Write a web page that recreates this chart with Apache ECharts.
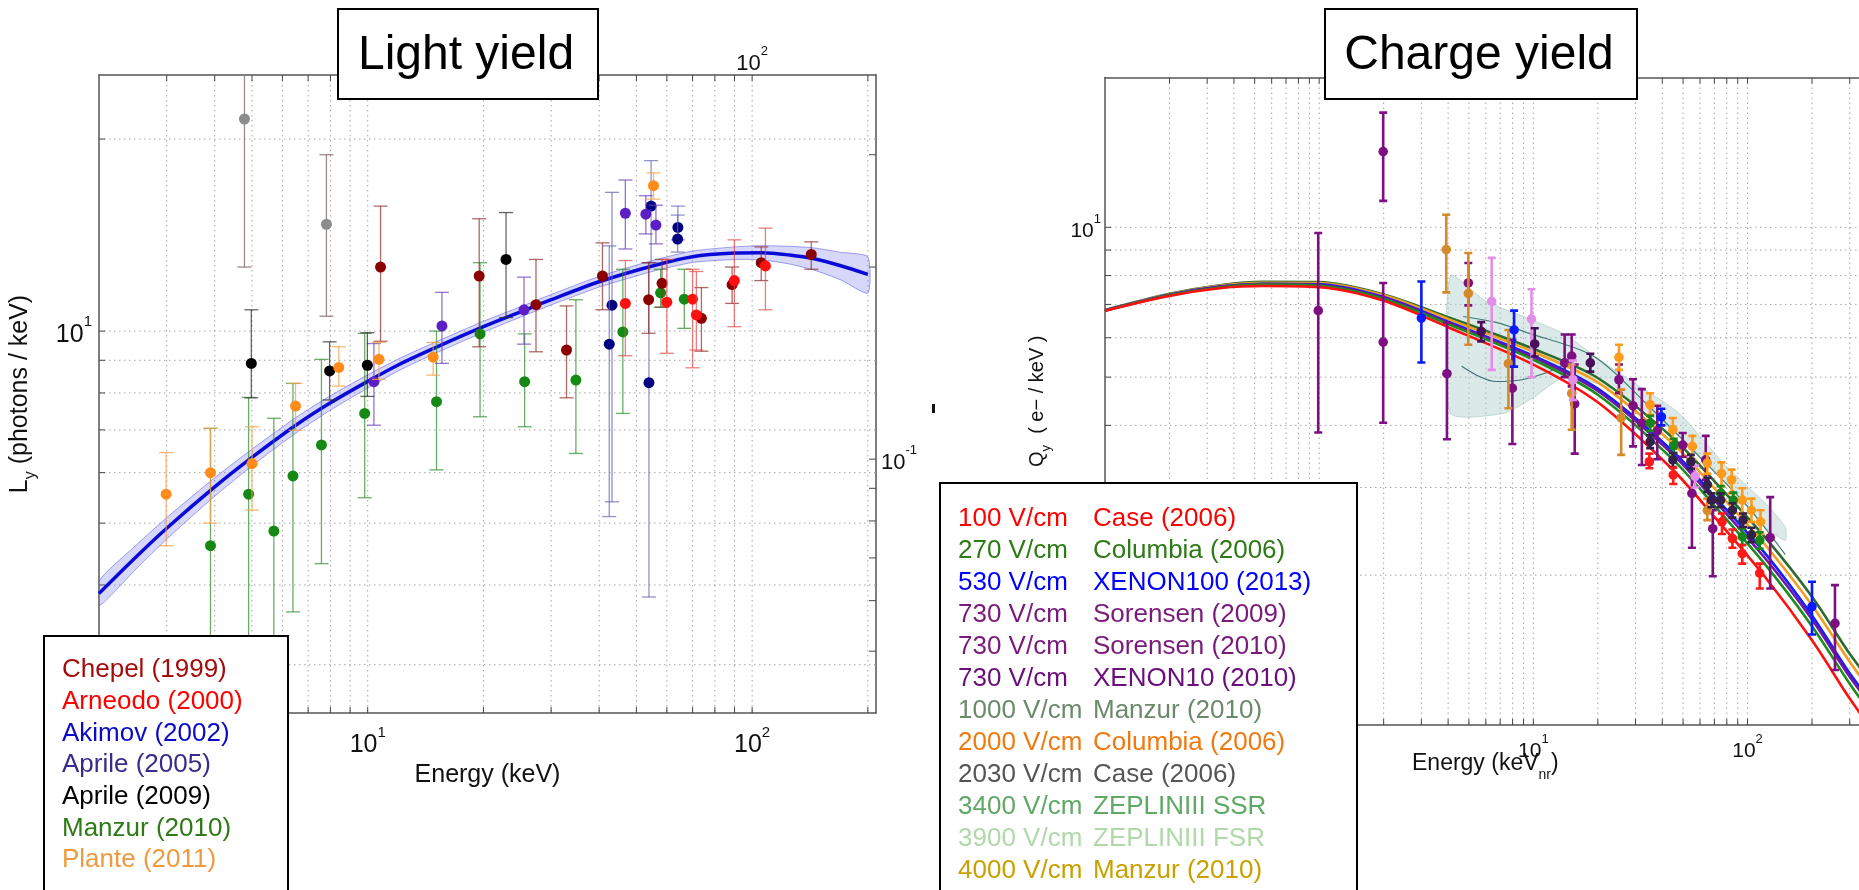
<!DOCTYPE html>
<html>
<head>
<meta charset="utf-8">
<script src="https://cdn.jsdelivr.net/npm/echarts@6/dist/echarts.min.js"></script>
<style>
  html, body { margin: 0; padding: 0; overflow: hidden; background: #fff; }
  #chart { width: 1980px; height: 890px; }
</style>
</head>
<body>
<div id="chart"></div>
<script>
// Light yield / Charge yield panels, log-log, drawn with ECharts custom series for error bars.
const FONT = '"Liberation Sans", Arial, Helvetica, sans-serif';

// axis ranges
const lightX = [2, 210];
const lightY = [2.52, 25.2];
const lightY2 = [0.04, 0.4];
const chargeX = [0.1, 1000];
const chargeY = [1, 20];

// dotted minor grid positions (MATLAB style)
const lightXGrid = [3, 4, 5, 6, 7, 8, 9, 10, 20, 30, 40, 50, 60, 70, 80, 90, 100, 200];
const lightYGrid = [3, 4, 5, 6, 7, 8, 9, 10, 20];
const lightY2Ticks = [0.05, 0.06, 0.07, 0.08, 0.09, 0.1, 0.2, 0.3];
const chargeXGrid = [0.2, 0.3, 0.4, 0.5, 0.6, 0.7, 0.8, 0.9, 1, 2, 3, 4, 5, 6, 7, 8, 9, 10,
  20, 30, 40, 50, 60, 70, 80, 90, 100, 200, 300, 400, 500, 600, 700, 800, 900];
const chargeYGrid = [2, 3, 4, 5, 6, 7, 8, 9, 10];

// light yield model curve + band
const lyModelX = [2, 2.5, 3, 4, 5, 6.5, 8, 10, 12, 15, 20, 25, 30, 40, 55, 70, 90, 106, 125, 145, 170, 200];
const lyModel = [3.88, 4.43, 4.91, 5.70, 6.34, 7.12, 7.72, 8.34, 8.85, 9.42, 10.16, 10.72, 11.2, 11.95, 12.65, 13.08, 13.25, 13.27, 13.16, 12.98, 12.66, 12.27];
const lyBandLo = [3.71, 4.24, 4.72, 5.51, 6.15, 6.92, 7.52, 8.14, 8.66, 9.23, 9.96, 10.52, 10.99, 11.72, 12.40, 12.81, 12.95, 12.93, 12.74, 12.46, 12.03, 11.47];
const lyBandHi = [4.06, 4.62, 5.10, 5.89, 6.53, 7.32, 7.92, 8.54, 9.04, 9.61, 10.36, 10.92, 11.41, 12.18, 12.90, 13.35, 13.55, 13.61, 13.58, 13.50, 13.29, 13.07];

// light yield data: [energy, Ly, low, high]
const grayPts = [[4.78, 21.5, 12.6, 30], [7.81, 14.7, 10.55, 18.9]];
const chepel = [[10.8, 12.6, 9.64, 15.7], [19.5, 12.2, 9.45, 15.0], [27.4, 11.0, 9.28, 12.95], [32.9, 9.34, 7.86, 10.95],
  [40.8, 12.2, 10.8, 13.75], [53.8, 11.2, 9.92, 12.8], [58.3, 11.88, 10.9, 12.95], [73.8, 10.47, 9.3, 11.7],
  [88.7, 11.83, 11.05, 12.6], [105.6, 12.8, 12.0, 13.55], [142.5, 13.19, 12.5, 13.8]];
const arneodo = [[46.8, 11.05, 9.15, 12.9], [60.0, 11.1, 9.23, 12.95], [70.0, 11.22, 8.76, 12.5], [71.6, 10.6, 9.34, 12.4],
  [89.9, 12.0, 10.16, 13.9], [108.3, 12.65, 10.8, 14.5]];
const akimov = [[43.2, 10.98, 5.4, 16.5], [42.5, 9.54, 5.12, 13.6], [54.6, 15.7, 12.8, 18.5], [53.9, 8.3, 3.83, 12.8],
  [64.1, 14.54, 13.9, 15.7], [64.0, 13.94, 13.3, 15.2]];
const aprile05 = [[10.38, 8.33, 7.12, 9.56], [15.6, 10.19, 8.9, 11.5], [25.5, 10.8, 9.54, 12.15], [46.8, 15.3, 13.45, 17.25],
  [52.9, 15.25, 14.2, 16.3], [56.2, 14.66, 13.7, 15.75]];
const aprile09 = [[4.98, 8.9, 7.86, 10.8], [7.96, 8.66, 7.8, 9.62], [9.98, 8.84, 7.9, 9.94], [22.9, 12.95, 10.5, 15.34]];
const manzur = [[3.9, 4.61, 2.0, 7.04], [4.9, 5.55, 2.0, 7.87], [5.7, 4.86, 2.0, 7.3], [6.39, 5.93, 3.63, 8.28],
  [7.58, 6.63, 4.32, 9.03], [9.82, 7.43, 5.48, 9.92], [15.1, 7.75, 6.06, 10.0], [19.6, 9.9, 7.34, 12.8],
  [25.6, 8.33, 7.08, 9.9], [34.8, 8.38, 6.43, 11.2], [46.1, 9.97, 7.43, 12.5], [57.8, 11.48, 10.9, 12.5], [66.6, 11.22, 10.1, 12.5]];
const plante = [[2.99, 5.55, 4.61, 6.45], [3.9, 6.0, 5.0, 7.04], [5.0, 6.2, 5.24, 7.08], [6.49, 7.63, 6.99, 8.28],
  [8.41, 8.77, 8.2, 9.45], [10.7, 9.03, 8.4, 9.6], [14.8, 9.1, 8.53, 9.6], [55.4, 16.9, 16.1, 17.7]];

// charge yield model curves
const qyCurveX = [0.1, 0.2, 0.35, 0.55, 1, 2, 4, 10, 20, 45, 70, 120, 200, 300, 400];
const qyRed = [6.80, 7.28, 7.55, 7.62, 7.58, 7.12, 6.30, 5.30, 4.45, 3.25, 2.62, 1.99, 1.48, 1.13, 0.95];
const qyGreen = [6.80, 7.30, 7.58, 7.67, 7.63, 7.18, 6.39, 5.42, 4.61, 3.41, 2.76, 2.11, 1.58, 1.21, 1.02];
const qyPurple = [6.80, 7.31, 7.60, 7.69, 7.66, 7.22, 6.43, 5.48, 4.69, 3.49, 2.83, 2.17, 1.63, 1.25, 1.06];
const qyBlue = [6.81, 7.32, 7.61, 7.70, 7.68, 7.24, 6.46, 5.52, 4.74, 3.54, 2.88, 2.22, 1.66, 1.27, 1.08];
const qyOrange = [6.81, 7.34, 7.64, 7.74, 7.73, 7.30, 6.54, 5.62, 4.88, 3.67, 2.99, 2.31, 1.74, 1.34, 1.13];
const qyDkGreen = [6.82, 7.35, 7.66, 7.77, 7.76, 7.33, 6.60, 5.70, 4.98, 3.77, 3.09, 2.39, 1.81, 1.39, 1.18];

// ZEPLIN-III region
const zepBandX = [4.1, 6, 10, 14, 20, 30, 48, 80, 120, 150];
const zepBandHi = [8.0, 7.1, 6.5, 6.1, 5.45, 4.85, 4.23, 3.3, 2.8, 2.5];
const zepBandLoX = [4.1, 7.3, 10, 14, 24, 48, 80, 120, 150];
const zepBandLo = [4.23, 4.23, 4.55, 5.0, 4.71, 3.8, 3.05, 2.5, 2.35];
const zepUpperX = [4.7, 6.7, 9.5, 19.2, 35, 60, 100, 150];
const zepUpper = [6.62, 6.44, 6.13, 5.5, 4.35, 3.45, 2.75, 2.2];
const zepBowlX = [4.63, 5.62, 6.69, 8.87, 11.3, 13.5];
const zepBowl = [5.26, 5.01, 4.9, 4.94, 5.09, 5.26];

// charge yield data: [energy, Qy, low, high]
const qPurple = [[0.99, 6.8, 3.87, 9.74], [1.99, 14.2, 11.3, 17.0], [1.99, 5.88, 4.05, 7.73], [3.95, 5.08, 3.75, 6.44],
  [4.97, 7.73, 6.97, 8.48], [7.98, 4.75, 3.67, 5.94], [14.0, 5.34, 5.0, 6.09], [15.1, 5.51, 4.79, 6.09],
  [15.6, 4.42, 3.51, 5.3], [25.1, 4.94, 4.64, 5.3], [29.2, 4.38, 3.63, 4.95], [32.1, 4.04, 3.33, 4.73],
  [37.9, 3.9, 3.42, 4.38], [49.8, 3.65, 3.46, 3.86], [55.0, 2.92, 2.27, 3.38], [63.8, 3.41, 3.11, 3.81],
  [68.8, 2.48, 1.99, 2.70], [127.6, 2.38, 1.88, 2.87], [256, 1.6, 1.29, 1.91]];
const qOchre = [[3.92, 9.02, 7.4, 10.6], [4.97, 7.36, 5.81, 8.88], [7.65, 5.32, 4.33, 6.22], [15.1, 4.64, 3.92, 5.3],
  [25.7, 4.14, 3.49, 4.72], [64.9, 2.70, 2.58, 2.85]];
const qPink = [[6.39, 7.1, 5.17, 8.68], [9.8, 6.54, 5.0, 7.51], [15.3, 4.94, 4.5, 5.4], [56.9, 3.16, 3.0, 3.32]];
const qBlue = [[3.0, 6.57, 5.35, 7.78], [8.13, 6.22, 5.25, 6.8], [39.6, 4.16, 4.0, 4.32], [200, 1.73, 1.52, 1.94]];
const qDkPurple = [[5.71, 6.18, 5.9, 6.45], [10.15, 5.83, 5.5, 6.27], [18.45, 5.34, 5.13, 5.57]];
const qOrange = [[25.1, 5.48, 5.17, 5.81], [35.1, 4.4, 4.2, 4.64], [44.8, 3.92, 3.68, 4.14], [55.3, 3.63, 3.41, 3.81],
  [64.9, 3.36, 3.2, 3.51], [75.6, 3.2, 3.02, 3.37], [84.3, 3.11, 2.92, 3.26], [94.5, 2.83, 2.66, 2.99],
  [104.3, 2.70, 2.56, 2.85], [115, 2.56, 2.42, 2.70]];
const qGreen = [[35.1, 4.04, 3.9, 4.18], [45.2, 3.64, 3.52, 3.76], [74.9, 2.92, 2.82, 3.02], [85.8, 2.83, 2.73, 2.93],
  [94.5, 2.39, 2.3, 2.48], [114, 2.35, 2.26, 2.44]];
const qDark = [[35.1, 3.71, 3.6, 3.82], [44.8, 3.41, 3.3, 3.52], [54.4, 3.38, 3.27, 3.49], [64.9, 3.04, 2.94, 3.14],
  [67.9, 2.83, 2.74, 2.92], [74.9, 2.83, 2.74, 2.92], [85, 2.70, 2.61, 2.79], [95.3, 2.58, 2.5, 2.66], [104.3, 2.41, 2.33, 2.49]];
const qRed = [[34.8, 3.38, 3.28, 3.51], [45, 3.18, 3.05, 3.29], [76.0, 2.56, 2.42, 2.66], [85, 2.37, 2.27, 2.47],
  [94.5, 2.21, 2.11, 2.3], [114, 2.02, 1.88, 2.11]];

// legend texts
const lightLegend = ['Chepel (1999)', 'Arneodo (2000)', 'Akimov (2002)', 'Aprile (2005)', 'Aprile (2009)', 'Manzur (2010)', 'Plante (2011)'];
const lightLegendColors = ['#a50d0d', '#ff0000', '#0a0ac8', '#3a2a8a', '#000000', '#2d7a16', '#f09a40'];
const chargeLegendField = ['100 V/cm', '270 V/cm', '530 V/cm', '730 V/cm', '730 V/cm', '730 V/cm',
  '1000 V/cm', '2000 V/cm', '2030 V/cm', '3400 V/cm', '3900 V/cm', '4000 V/cm'];
const chargeLegendRef = ['Case (2006)', 'Columbia (2006)', 'XENON100 (2013)', 'Sorensen (2009)', 'Sorensen (2010)', 'XENON10 (2010)',
  'Manzur (2010)', 'Columbia (2006)', 'Case (2006)', 'ZEPLINIII SSR', 'ZEPLINIII FSR', 'Manzur (2010)'];
const chargeLegendColors = ['#ff0000', '#2d7a16', '#0000ff', '#7a1a7a', '#7a1a7a', '#6a0f7a',
  '#6b8a6b', '#f07a10', '#555555', '#5fa865', '#b0d8a8', '#c8a000'];

function supRich(size) {
  const s = Math.round(size * 0.6);
  return {
    b: { fontSize: size, lineHeight: size + 8, verticalAlign: 'bottom', fontFamily: FONT, color: '#111' },
    s: { fontSize: s, lineHeight: s + 1, verticalAlign: 'top', fontFamily: FONT, color: '#111' }
  };
}
function powLabel(v) {
  const e = Math.log10(v);
  const r = Math.round(e);
  return Math.abs(e - r) < 1e-6 ? `{b|10}{s|${r}}` : '';
}

const frame = { show: true, lineStyle: { color: '#555', width: 1.5 } };

function logAxis(gridIndex, position, range, label) {
  return {
    type: 'log', logBase: 10, gridIndex, position, min: range[0], max: range[1],
    axisLine: frame, axisTick: { show: false }, splitLine: { show: false }, minorSplitLine: { show: false },
    axisLabel: label ? { formatter: powLabel, rich: supRich(label.size), margin: label.margin } : { show: false }
  };
}

// dotted grid lines + inward ticks, positioned by the axis scales
function gridSeries(xi, yi, vals, vertical, ref, drawLine, ticks) {
  return {
    type: 'custom', xAxisIndex: xi, yAxisIndex: yi, silent: true, z: 1,
    encode: { x: 0, y: 1 },
    data: vals.map(v => vertical ? [v, ref] : [ref, v]),
    renderItem(params, api) {
      const cs = params.coordSys;
      const p = api.coord([api.value(0), api.value(1)]);
      const dot = { stroke: '#a4a4a4', lineWidth: 1, lineDash: [1.5, 3.5] };
      const tk = { stroke: '#444', lineWidth: 1 };
      const ch = [];
      if (vertical) {
        if (drawLine) ch.push({ type: 'line', shape: { x1: p[0], y1: cs.y, x2: p[0], y2: cs.y + cs.height }, style: dot });
        if (ticks) {
          ch.push({ type: 'line', shape: { x1: p[0], y1: cs.y + cs.height, x2: p[0], y2: cs.y + cs.height - 6 }, style: tk });
          ch.push({ type: 'line', shape: { x1: p[0], y1: cs.y, x2: p[0], y2: cs.y + 6 }, style: tk });
        }
      } else {
        if (drawLine) ch.push({ type: 'line', shape: { x1: cs.x, y1: p[1], x2: cs.x + cs.width, y2: p[1] }, style: dot });
        if (ticks === 'left') ch.push({ type: 'line', shape: { x1: cs.x, y1: p[1], x2: cs.x + 6, y2: p[1] }, style: tk });
        if (ticks === 'right') ch.push({ type: 'line', shape: { x1: cs.x + cs.width, y1: p[1], x2: cs.x + cs.width - 7, y2: p[1] }, style: tk });
      }
      return { type: 'group', children: ch };
    }
  };
}

function errorSeries(name, xi, yi, data, color, barColor, lw, cap, r) {
  return {
    name, type: 'custom', xAxisIndex: xi, yAxisIndex: yi, clip: true, z: 5,
    encode: { x: 0, y: 1 }, data,
    renderItem(params, api) {
      const x = api.value(0);
      const c = api.coord([x, api.value(1)]);
      const lo = api.coord([x, api.value(2)]);
      const hi = api.coord([x, api.value(3)]);
      const ls = { stroke: barColor, lineWidth: lw };
      return {
        type: 'group', children: [
          { type: 'line', shape: { x1: c[0], y1: lo[1], x2: c[0], y2: hi[1] }, style: ls },
          { type: 'line', shape: { x1: c[0] - cap, y1: lo[1], x2: c[0] + cap, y2: lo[1] }, style: ls },
          { type: 'line', shape: { x1: c[0] - cap, y1: hi[1], x2: c[0] + cap, y2: hi[1] }, style: ls },
          { type: 'circle', shape: { cx: c[0], cy: c[1], r }, style: { fill: color } }
        ]
      };
    }
  };
}

function bandSeries(xi, yi, xsHi, hi, xsLo, lo, fill, stroke) {
  return {
    type: 'custom', xAxisIndex: xi, yAxisIndex: yi, clip: true, silent: true, z: 2,
    encode: { x: 0, y: 1 }, data: [[xsHi[0], hi[0]]],
    renderItem(params, api) {
      const top = xsHi.map((x, i) => api.coord([x, hi[i]]));
      const bot = xsLo.map((x, i) => api.coord([x, lo[i]])).reverse();
      return { type: 'polygon', shape: { points: top.concat(bot), smooth: 0.2 }, style: { fill, stroke, lineWidth: 1 } };
    }
  };
}

function curve(xi, yi, xs, ys, color, width, z) {
  return {
    type: 'line', xAxisIndex: xi, yAxisIndex: yi, data: xs.map((x, i) => [x, ys[i]]),
    showSymbol: false, smooth: 0.3, silent: true, z: z || 3, clip: true,
    lineStyle: { color, width }
  };
}

const series = [
  // light yield panel
  gridSeries(0, 0, lightXGrid, true, lightY[0], true, true),
  gridSeries(0, 0, lightYGrid, false, lightX[0], true, 'left'),
  gridSeries(0, 1, lightY2Ticks, false, lightX[0], false, 'right'),
  bandSeries(0, 0, lyModelX, lyBandHi, lyModelX, lyBandLo, 'rgba(110,110,235,0.28)', 'rgba(90,90,220,0.55)'),
  curve(0, 0, lyModelX, lyModel, '#0a0ad8', 3.5),
  errorSeries('gray', 0, 0, grayPts, '#8c8c8c', 'rgba(140,115,115,0.85)', 1.3, 7, 5.5),
  errorSeries('Manzur (2010)', 0, 0, manzur, '#148a14', 'rgba(40,140,40,0.7)', 1.3, 7, 5.5),
  errorSeries('Akimov (2002)', 0, 0, akimov, '#000080', 'rgba(100,100,180,0.7)', 1.3, 7, 5.5),
  errorSeries('Chepel (1999)', 0, 0, chepel, '#8b0000', 'rgba(140,40,40,0.7)', 1.3, 7, 5.5),
  errorSeries('Arneodo (2000)', 0, 0, arneodo, '#ff1010', 'rgba(230,70,70,0.7)', 1.3, 7, 5.5),
  errorSeries('Aprile (2005)', 0, 0, aprile05, '#5b1fc4', 'rgba(110,70,190,0.75)', 1.3, 7, 5.5),
  errorSeries('Aprile (2009)', 0, 0, aprile09, '#000000', 'rgba(50,50,50,0.75)', 1.3, 7, 5.5),
  errorSeries('Plante (2011)', 0, 0, plante, '#ff8c1a', 'rgba(245,160,70,0.75)', 1.3, 7, 5.5),

  // charge yield panel
  gridSeries(2, 2, chargeXGrid, true, chargeY[0], true, true),
  gridSeries(2, 2, chargeYGrid, false, chargeX[0], true, 'left'),
  bandSeries(2, 2, zepBandX, zepBandHi, zepBandLoX, zepBandLo, 'rgba(170,205,200,0.42)', 'rgba(150,190,185,0.5)'),
  curve(2, 2, zepUpperX, zepUpper, '#3f7f78', 1.2),
  curve(2, 2, zepBowlX, zepBowl, '#3f6f78', 1.2),
  curve(2, 2, qyCurveX, qyDkGreen, '#2e6b2e', 2.6),
  curve(2, 2, qyCurveX, qyOrange, '#f0a020', 2.6),
  curve(2, 2, qyCurveX, qyBlue, '#1a1aff', 2.6),
  curve(2, 2, qyCurveX, qyPurple, '#6a1aa0', 2.6),
  curve(2, 2, qyCurveX, qyGreen, '#1f8a1f', 2.6),
  curve(2, 2, qyCurveX, qyRed, '#ff1010', 2.6),
  errorSeries('Sorensen', 2, 2, qPurple, '#7e0f82', '#7e0f82', 2.6, 4, 4.8),
  errorSeries('Manzur 4000', 2, 2, qOchre, '#d58a2a', '#d58a2a', 2.6, 4, 4.8),
  errorSeries('ZEPLIN', 2, 2, qPink, '#e38ee8', '#e38ee8', 2.6, 4, 4.8),
  errorSeries('XENON100', 2, 2, qBlue, '#0a1aff', '#0a1aff', 2.6, 4, 4.8),
  errorSeries('XENON10', 2, 2, qDkPurple, '#4a0f5a', '#4a0f5a', 2.6, 4, 4.8),
  errorSeries('Columbia 2000', 2, 2, qOrange, '#ff9a1a', '#ff9a1a', 2.6, 4, 4.8),
  errorSeries('Columbia 270', 2, 2, qGreen, '#17861a', '#17861a', 2.6, 4, 4.8),
  errorSeries('Case 2030', 2, 2, qDark, '#33214a', '#33214a', 2.6, 4, 4.8),
  errorSeries('Case 100', 2, 2, qRed, '#ff1a1a', '#ff1a1a', 2.6, 4, 4.8)
];

// boxes, legends and stray labels
const graphic = [
  { type: 'rect', z: 100, shape: { x: 338, y: 9, width: 260, height: 90 }, style: { fill: '#fff', stroke: '#000', lineWidth: 2 } },
  { type: 'text', z: 101, x: 466, y: 56, style: { text: 'Light yield', font: `48px ${FONT}`, fill: '#000', align: 'center', verticalAlign: 'middle' } },
  { type: 'rect', z: 100, shape: { x: 1325, y: 9, width: 312, height: 90 }, style: { fill: '#fff', stroke: '#000', lineWidth: 2 } },
  { type: 'text', z: 101, x: 1479, y: 56, style: { text: 'Charge yield', font: `48px ${FONT}`, fill: '#000', align: 'center', verticalAlign: 'middle' } },
  { type: 'rect', z: 100, shape: { x: 44, y: 636, width: 244, height: 300 }, style: { fill: '#fff', stroke: '#000', lineWidth: 2 } },
  { type: 'rect', z: 100, shape: { x: 940, y: 483, width: 417, height: 450 }, style: { fill: '#fff', stroke: '#000', lineWidth: 2 } },
  { type: 'rect', z: 100, shape: { x: 932, y: 404, width: 3, height: 9 }, style: { fill: '#111' } },
  {
    type: 'text', z: 101, x: 1412, y: 767,
    style: {
      text: '{a|Energy (keV}{s|nr}{a|)}', verticalAlign: 'middle', fill: '#111',
      rich: {
        a: { fontSize: 23, lineHeight: 30, verticalAlign: 'top', fontFamily: FONT, color: '#111' },
        s: { fontSize: 14, lineHeight: 14, verticalAlign: 'bottom', fontFamily: FONT, color: '#111' }
      }
    }
  }
];
lightLegend.forEach((t, i) => graphic.push({
  type: 'text', z: 102, x: 62, y: 670 + 31.7 * i,
  style: { text: t, fill: lightLegendColors[i], font: `26px ${FONT}`, verticalAlign: 'middle' }
}));
chargeLegendField.forEach((t, i) => {
  graphic.push({ type: 'text', z: 102, x: 958, y: 519 + 32 * i,
    style: { text: t, fill: chargeLegendColors[i], font: `26px ${FONT}`, verticalAlign: 'middle' } });
  graphic.push({ type: 'text', z: 102, x: 1093, y: 519 + 32 * i,
    style: { text: chargeLegendRef[i], fill: chargeLegendColors[i], font: `26px ${FONT}`, verticalAlign: 'middle' } });
});

const nameRich = (big, small) => ({
  a: { fontSize: big, lineHeight: big + 6, verticalAlign: 'top', fontFamily: FONT, color: '#111' },
  s: { fontSize: small, lineHeight: small, verticalAlign: 'bottom', fontFamily: FONT, color: '#111' }
});

const option = {
  animation: false,
  backgroundColor: '#fff',
  grid: [
    { left: 99, top: 75, width: 777, height: 638 },
    { left: 1105, top: 77.5, width: 872, height: 647.5 }
  ],
  xAxis: [
    Object.assign(logAxis(0, 'bottom', lightX, { size: 25, margin: 12 }), {
      name: 'Energy (keV)', nameLocation: 'middle', nameGap: 45,
      nameTextStyle: { fontSize: 25, color: '#111', fontFamily: FONT }
    }),
    logAxis(0, 'top', lightX, { size: 22, margin: 0 }),
    logAxis(1, 'bottom', chargeX, { size: 21, margin: 8 }),
    logAxis(1, 'top', chargeX, null)
  ],
  yAxis: [
    Object.assign(logAxis(0, 'left', lightY, { size: 25, margin: 7 }), {
      name: '{a|L}{s|y}{a| (photons / keV)}', nameLocation: 'middle', nameGap: 60, nameRotate: 90,
      nameTextStyle: { rich: nameRich(25, 16) }
    }),
    logAxis(0, 'right', lightY2, { size: 22, margin: 5 }),
    Object.assign(logAxis(1, 'left', chargeY, { size: 21, margin: 4 }), {
      name: '{a|Q}{s|y}{a|  ( e\u2212 / keV )}', nameLocation: 'middle', nameGap: 52, nameRotate: 90,
      nameTextStyle: { rich: nameRich(20, 13) }
    }),
    logAxis(1, 'right', chargeY, null)
  ],
  series,
  graphic
};

const chart = echarts.init(document.getElementById('chart'), null, { renderer: 'canvas' });
chart.setOption(option);
</script>
</body>
</html>
